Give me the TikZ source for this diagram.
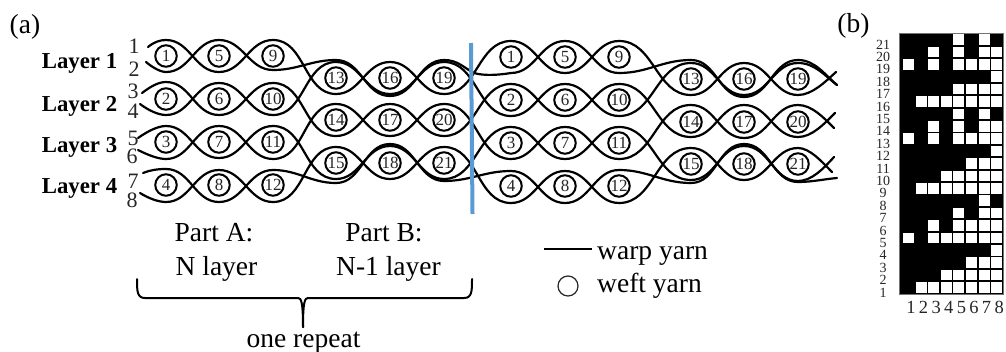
\documentclass[tikz,border=0pt]{standalone}
\usepackage{fontspec}
\setmainfont{Liberation Serif}
\tikzset{
  warp/.style={line width=2.2pt,black,line cap=round,line join=round},
  w/.style={out=0,in=180},
  wf/.style={circle,draw=black,line width=2pt,minimum size=21.5pt,inner sep=0pt,font=\fontsize{17}{17}\selectfont,text=black!85},
  lay/.style={font=\bfseries\fontsize{22.8}{22.8}\selectfont,anchor=base,inner sep=0pt},
  num/.style={font=\fontsize{22}{22}\selectfont,text=black!85,inner sep=0pt,anchor=base},
  txt/.style={font=\fontsize{27.5}{27.5}\selectfont,inner sep=0pt,anchor=base},
  rowlab/.style={font=\fontsize{14}{14}\selectfont,inner sep=0pt,anchor=base,text=black!85},
  collab/.style={font=\fontsize{18.5}{18.5}\selectfont,inner sep=0pt,anchor=base,text=black!85},
  wcell/.style={fill=white,draw=none}
}
\begin{document}
\begin{tikzpicture}[x=1pt,y=-1pt]
\useasboundingbox (0,0) rectangle (1006,351);
% warps
\draw[warp] (148,47) .. controls (154,42) and (160,40) .. (166,40) to[w] (219,72) to[w] (273,40) to[w] (336,94) to[w] (390,62) to[w] (444,94) to[w] (511,41) to[w] (565,73) to[w] (619,41) to[w] (691,95) to[w] (744,63) to[w] (798,95) .. controls (812,95) and (825,82) .. (836,72);
\draw[warp] (146,62) .. controls (152,67) and (160,72) .. (166,72) to[w] (219,40) to[w] (273,70) to[w] (336,60) to[w] (390,96) to[w] (444,60) .. controls (458,60) and (464,68) .. (474,73) .. controls (484,76) and (499,75) .. (511,73) to[w] (565,41) to[w] (619,73) to[w] (691,60) to[w] (744,97) to[w] (798,60) .. controls (815,60) and (825,75) .. (837,85);
\draw[warp] (142,93) .. controls (150,87) and (158,82) .. (166,82) to[w] (219,115) to[w] (273,83) to[w] (336,136) to[w] (390,104) to[w] (444,136) to[w] (511,84) to[w] (565,116) to[w] (619,84) to[w] (691,137) to[w] (744,105) to[w] (798,137) .. controls (812,137) and (824,124) .. (835,113);
\draw[warp] (140,104) .. controls (148,110) and (158,115) .. (166,115) to[w] (219,83) to[w] (273,115) to[w] (336,62) to[w] (390,94) to[w] (444,62) to[w] (511,116) to[w] (565,84) to[w] (619,116) to[w] (691,63) to[w] (744,95) to[w] (798,63) .. controls (815,63) and (825,76) .. (837,85);
\draw[warp] (138,138) .. controls (148,131) and (158,126) .. (166,126) to[w] (219,158) to[w] (273,126) to[w] (336,179) to[w] (390,146) to[w] (444,179) to[w] (511,127) to[w] (565,159) to[w] (619,127) to[w] (691,180) to[w] (744,146) to[w] (798,181) .. controls (812,181) and (824,168) .. (834,157);
\draw[warp] (138,150) .. controls (148,155) and (158,159) .. (166,159) to[w] (219,126) to[w] (273,159) to[w] (336,104) to[w] (390,136) to[w] (444,104) to[w] (511,159) to[w] (565,127) to[w] (619,159) to[w] (691,105) to[w] (744,138) to[w] (798,105) .. controls (812,105) and (824,118) .. (834,128);
\draw[warp] (143,173) .. controls (150,170) and (158,169) .. (166,169) to[w] (219,202) to[w] (273,170) to[w] (336,183) to[w] (390,144) to[w] (444,181) to[w] (511,171) to[w] (565,203) to[w] (619,170) to[w] (691,183) to[w] (744,144) to[w] (798,182) .. controls (812,182) and (825,179) .. (837,178);
\draw[warp] (140,193) .. controls (148,198) and (158,202) .. (166,202) to[w] (219,170) to[w] (273,202) to[w] (336,147) to[w] (390,179) to[w] (444,147) to[w] (511,203) to[w] (565,171) to[w] (619,203) to[w] (691,148) to[w] (744,180) to[w] (798,148) .. controls (810,148) and (822,162) .. (832,172);
% blue divider
\coordinate (bt) at (471,43);
\coordinate (bb) at (472.5,214);
\draw[line width=4pt,color={rgb,255:red,91;green,155;blue,213}] (bt) -- (bb);
% weft circles
\foreach \n/\x/\y in {1/166/56,2/166/99,3/166/142,4/166/185,5/219/56,6/219/99,7/219/142,8/219/185,9/273/56,10/273/99,11/273/142,12/273/185,13/336/78,14/336/120,15/336/163,16/390/78,17/390/120,18/390/163,19/444/78,20/444/120,21/444/163}
  \node[wf] (a\n) at (\x,\y) {\n};
\foreach \n/\x/\y in {1/511/57,2/511/100,3/511/143,4/511/186,5/565/57,6/565/100,7/565/143,8/565/186,9/619/57,10/619/100,11/619/143,12/619/186,13/691/79,14/691/122,15/691/164,16/744/79,17/744/122,18/744/164,19/798/79,20/798/122,21/798/164}
  \node[wf] (r\n) at (\x,\y) {\n};
% labels
\node[txt] (la) at (25,33) {(a)};
\node[lay] (l1) at (79.5,68) {Layer 1};
\node[lay] (l2) at (79.5,111) {Layer 2};
\node[lay] (l3) at (79.5,152) {Layer 3};
\node[lay] (l4) at (79.5,193) {Layer 4};
\foreach \n/\x/\y in {1/134/53,2/134/76,3/133/98,4/133/118,5/133/145,6/132/163,7/133/188,8/132/207}
  \node[num] (w\n) at (\x,\y) {\n};
\node[txt] (pa) at (214,241) {Part A:};
\node[txt] (na) at (216.5,275) {N layer};
\node[txt] (pb) at (384,241) {Part B:};
\node[txt] (nb) at (388.5,275) {N-1 layer};
\node[txt] (rep) at (303.5,347) {one repeat};
% brace
\coordinate (b1) at (137,279);
\coordinate (b2) at (472,279);
\coordinate (bs) at (303,327);
\draw[warp,line width=2pt] (b1) .. controls (137,291) and (137,298) .. (145,298) -- (298,298) .. controls (301,298) and (303,301) .. (bs);
\draw[warp,line width=2pt] (b2) .. controls (472,291) and (472,298) .. (464,298) -- (308,298) .. controls (305,298) and (303,301) .. (bs);
% legend
\coordinate (ll) at (544,249);
\coordinate (lr) at (592,249);
\draw[line width=1.8pt] (ll) -- (lr);
\node[txt,anchor=base west] (wy) at (597,259) {warp yarn};
\node[circle,draw=black!85,line width=1.2pt,minimum size=20pt,inner sep=0pt] (lc) at (568,286) {};
\node[txt,anchor=base west] (fy) at (597,292) {weft yarn};
% (b)
\node[txt] (lb) at (853.5,32) {(b)};
\fill[black] (899,33.5) rectangle (1003.5,294);
\draw[black!55,line width=0.6pt] (899,33.5) rectangle (1003.5,294);
\foreach \r/\cols in {21/{5,7},20/{3,5,7,8},19/{1,3,5,6,7,8},18/{8},17/{5,6,7,8},16/{2,3,4,5,6,7,8},15/{5,7},14/{3,5,7,8},13/{1,3,5,6,7,8},12/{8},11/{6,7,8},10/{4,5,6,7,8},9/{2,3,4,5,6,7,8},8/{7},7/{5,7,8},6/{3,5,6,7,8},5/{1,3,4,5,6,7,8},4/{8},3/{6,7,8},2/{4,5,6,7,8},1/{2,3,4,5,6,7,8}}{
  \pgfmathsetmacro\cy{39.5+12.4*(21-\r)}
  \foreach \c in \cols {
    \pgfmathsetmacro\cx{908.5+12.6*(\c-1)}
    \fill[wcell] (\cx-5.5,\cy-5.3) rectangle (\cx+5.5,\cy+5.3);
  }
  \node[rowlab] (rl\r) at (883,\cy+9.5) {\r};
}
\foreach \c in {1,...,8}{
  \pgfmathsetmacro\cx{911+12.6*(\c-1)}
  \node[collab] (cl\c) at (\cx,313) {\c};
}
\end{tikzpicture}
\end{document}
